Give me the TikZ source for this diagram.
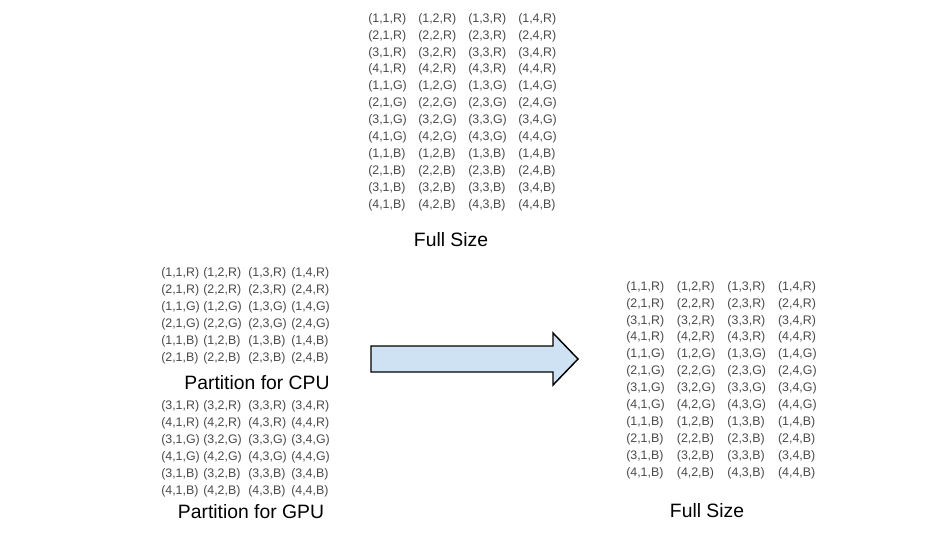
\documentclass[tikz,border=0pt]{standalone}
\usepackage{fontspec}
\setmainfont{Liberation Sans}
\definecolor{celltext}{HTML}{4A4A4A}
\definecolor{arrowfill}{HTML}{CFE2F3}
\begin{document}
\begin{tikzpicture}[x=0.75pt,y=-0.75pt,
  cell/.style={anchor=west,inner sep=0pt,text=celltext,font=\fontsize{9.3}{11}\selectfont},
  caption/.style={inner sep=0pt,text=black,font=\fontsize{14.5}{17}\selectfont},
  blockarrow/.style={draw=black,fill=arrowfill,line width=1.1pt,line join=miter}]
\useasboundingbox (0,0) rectangle (937,544);
% top full-size grid
\foreach \ch [count=\k from 0] in {R,G,B}{
  \foreach \r in {1,...,4}{
    \foreach \c in {1,...,4}{
      \pgfmathsetmacro{\yy}{19+16.9*(4*\k+\r-1)}
      \pgfmathsetmacro{\xx}{368+50*(\c-1)}
      \node[cell] (t-\ch-\r-\c) at (\xx,\yy) {(\r,\c,\ch)};
    }}}
\node[caption] (toplabel) at (451,240) {Full Size};
% CPU partition
\foreach \ch [count=\k from 0] in {R,G,B}{
  \foreach \r [count=\q from 0] in {1,2}{
    \foreach \c/\xx in {1/161,2/203,3/248,4/291}{
      \pgfmathsetmacro{\yy}{273+17.1*(2*\k+\q)}
      \node[cell] (c-\ch-\r-\c) at (\xx,\yy) {(\r,\c,\ch)};
    }}}
\node[caption] (cpulabel) at (257,383) {Partition for CPU};
% GPU partition
\foreach \ch [count=\k from 0] in {R,G,B}{
  \foreach \r [count=\q from 0] in {3,4}{
    \foreach \c/\xx in {1/161,2/203,3/248,4/291}{
      \pgfmathsetmacro{\yy}{406+17*(2*\k+\q)}
      \node[cell] (g-\ch-\r-\c) at (\xx,\yy) {(\r,\c,\ch)};
    }}}
\node[caption] (gpulabel) at (251,512) {Partition for GPU};
% right full-size grid
\foreach \ch [count=\k from 0] in {R,G,B}{
  \foreach \r in {1,...,4}{
    \foreach \c in {1,...,4}{
      \pgfmathsetmacro{\yy}{287+16.9*(4*\k+\r-1)}
      \pgfmathsetmacro{\xx}{626+50.6*(\c-1)}
      \node[cell] (f-\ch-\r-\c) at (\xx,\yy) {(\r,\c,\ch)};
    }}}
\node[caption] (rightlabel) at (707,511) {Full Size};
% block arrow
\draw[blockarrow] (371,346) -- (553,346) -- (553,333) -- (578,359) -- (553,385) -- (553,372) -- (371,372) -- cycle;
\end{tikzpicture}
\end{document}
